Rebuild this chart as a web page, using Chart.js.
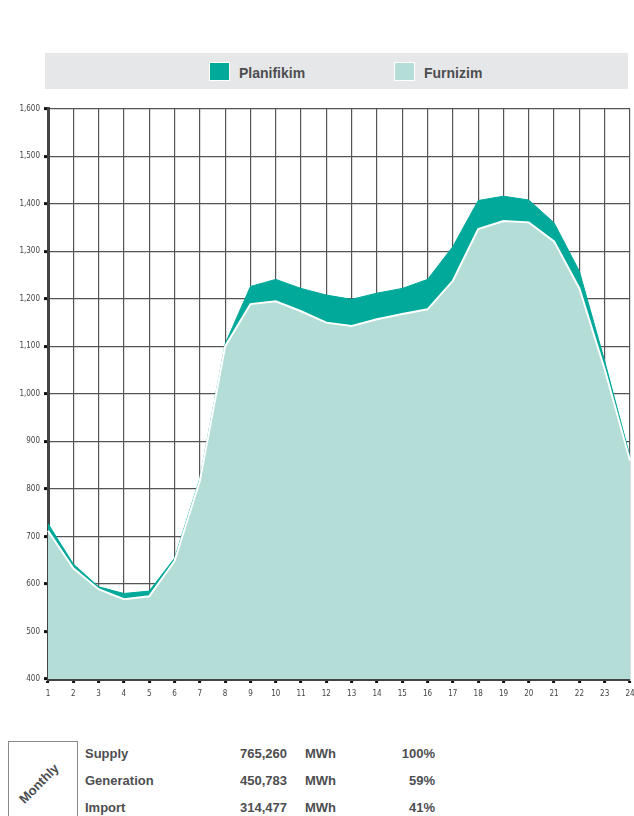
<!DOCTYPE html>
<html>
<head>
<meta charset="utf-8">
<script src="https://cdn.jsdelivr.net/npm/chart.js@4.4.1/dist/chart.umd.min.js"></script>
<style>
    body { margin: 0; background: #fff; width: 634px; height: 816px; position: relative; overflow: hidden; font-family: "Liberation Sans", Arial, sans-serif; }
    #legend { position: absolute; left: 45px; top: 53px; width: 583px; height: 36px; background: #e6e7e8; }
    .item { position: absolute; top: 9px; font-weight: bold; font-size: 14px; color: #4d4e50; line-height: 18px; }
    .sw { display: inline-block; width: 19px; height: 17px; vertical-align: -3px; margin-right: 9px; border: 1px solid #fff; }
    #wrap { position: absolute; left: 0; top: 100px; width: 634px; height: 604px; }
    #monthly { position: absolute; left: 8px; top: 741px; width: 68px; height: 90px; border: 1px solid #8a8a8a; }
    #monthly span { position: absolute; left: 5px; top: 34px; transform: rotate(-45deg); font-weight: bold; font-size: 13px; color: #4d4e50; }
    .row { position: absolute; left: 0; font-weight: bold; font-size: 13px; color: #4d4e50; }
    .row span { position: absolute; white-space: nowrap; }
</style>
</head>
<body>
<div id="legend">
    <div class="item" style="left:164px"><span class="sw" style="background:#00a99a"></span>Planifikim</div>
    <div class="item" style="left:349px"><span class="sw" style="background:#b3ddd6"></span>Furnizim</div>
</div>
<div id="wrap"><canvas id="chart"></canvas></div>
<div id="monthly"><span>Monthly</span></div>
<div id="table"></div>
<script>
// hours of the day
const hours = ['1','2','3','4','5','6','7','8','9','10','11','12','13','14','15','16','17','18','19','20','21','22','23','24'];
// MW
const planifikim = [727, 642, 594, 580, 585, 654, 822, 1105, 1226, 1241, 1222, 1208, 1199, 1212, 1222, 1241, 1310, 1407, 1416, 1408, 1360, 1258, 1069, 868];
const furnizim = [712, 633, 589, 568, 574, 648, 817, 1100, 1189, 1195, 1174, 1150, 1143, 1157, 1168, 1178, 1238, 1347, 1364, 1361, 1321, 1222, 1052, 860];

// monthly summary
const rowNames = ['Supply', 'Generation', 'Import'];
const rowValues = ['765,260', '450,783', '314,477'];
const rowShares = ['100%', '59%', '41%'];

const table = document.getElementById('table');
rowNames.forEach(function (name, i) {
    const top = 746 + i * 27;
    const row = document.createElement('div');
    row.className = 'row';
    row.style.top = top + 'px';
    row.innerHTML = '<span style="left:85px">' + name + '</span>' +
        '<span style="right:-287px;text-align:right">' + rowValues[i] + '</span>' +
        '<span style="left:305px">MWh</span>' +
        '<span style="right:-435px;text-align:right">' + rowShares[i] + '</span>';
    table.appendChild(row);
});

const ctx = document.getElementById('chart').getContext('2d');
const chart = new Chart(ctx, {
    type: 'line',
    data: {
        labels: hours,
        datasets: [{
            label: 'Furnizim',
            data: furnizim,
            fill: 'start',
            backgroundColor: '#b3ddd6',
            borderColor: '#ffffff',
            borderWidth: 2,
            pointRadius: 0,
            tension: 0
        }, {
            label: 'Planifikim',
            data: planifikim,
            fill: 'start',
            backgroundColor: '#00a99a',
            borderColor: '#00a99a',
            borderWidth: 1,
            pointRadius: 0,
            tension: 0
        }]
    },
    options: {
        responsive: true,
        maintainAspectRatio: false,
        animation: false,
        layout: { padding: { top: 7, right: 4, left: 0, bottom: 0 } },
        plugins: { legend: { display: false }, tooltip: { enabled: false } },
        scales: {
            x: {
                offset: false,
                grid: { color: '#555', lineWidth: 1.2, tickLength: 4, tickWidth: 3, tickColor: '#111' },
                border: { display: true, color: '#444', width: 3 },
                ticks: { color: '#444', font: { family: 'DejaVu Sans Condensed', size: 8 }, padding: 6, maxRotation: 0, autoSkip: false },
                afterFit: function (scale) {
                    scale.height = 25;
                    scale.paddingRight = 0;
                    scale.paddingLeft = 0;
                }
            },
            y: {
                min: 400,
                max: 1600,
                grid: { color: '#555', lineWidth: 1.2, tickLength: 4, tickWidth: 3, tickColor: '#111' },
                border: { display: true, color: '#444', width: 3 },
                ticks: {
                    stepSize: 100,
                    color: '#444',
                    font: { family: 'DejaVu Sans Condensed', size: 8 },
                    padding: 4,
                    callback: function (v) { return v.toLocaleString('en-US'); }
                },
                afterFit: function (scale) { scale.width = 48; }
            }
        }
    }
});
</script>
</body>
</html>
